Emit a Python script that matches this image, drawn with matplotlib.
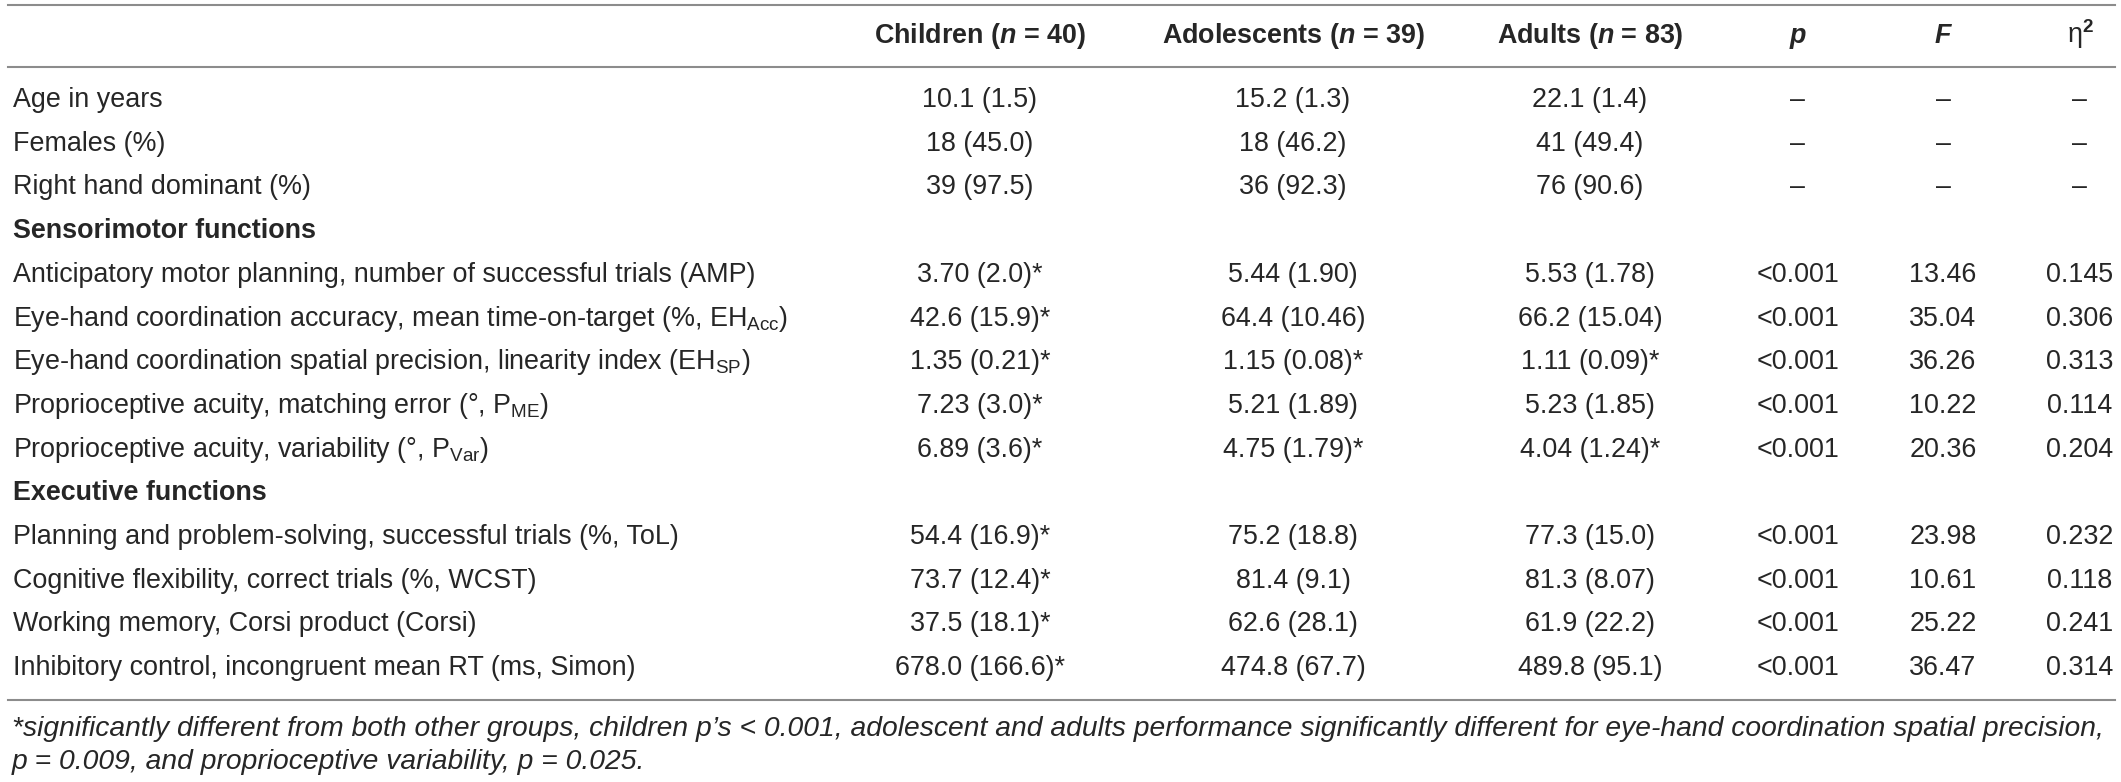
import matplotlib
matplotlib.use("Agg")
import matplotlib.pyplot as plt

FONT = "Liberation Sans"
plt.rcParams["font.family"] = [FONT, "DejaVu Sans"]
plt.rcParams["mathtext.fontset"] = "custom"
plt.rcParams["mathtext.rm"] = FONT
plt.rcParams["mathtext.it"] = FONT + ":italic:bold"
plt.rcParams["mathtext.bf"] = FONT + ":bold"

# table content
headers = ["Children ($n$ = 40)", "Adolescents ($n$ = 39)", "Adults ($n$ = 83)",
           "$p$", "$F$", "η$^{\\mathbf{2}}$"]

labels = [
    "Age in years",
    "Females (%)",
    "Right hand dominant (%)",
    "Sensorimotor functions",
    "Anticipatory motor planning, number of successful trials (AMP)",
    "Eye-hand coordination accuracy, mean time-on-target (%, EH$_{\\mathrm{Acc}}$)",
    "Eye-hand coordination spatial precision, linearity index (EH$_{\\mathrm{SP}}$)",
    "Proprioceptive acuity, matching error (°, P$_{\\mathrm{ME}}$)",
    "Proprioceptive acuity, variability (°, P$_{\\mathrm{Var}}$)",
    "Executive functions",
    "Planning and problem-solving, successful trials (%, ToL)",
    "Cognitive flexibility, correct trials (%, WCST)",
    "Working memory, Corsi product (Corsi)",
    "Inhibitory control, incongruent mean RT (ms, Simon)",
]
section_rows = [3, 9]

children = ["10.1 (1.5)", "18 (45.0)", "39 (97.5)", "",
            "3.70 (2.0)*", "42.6 (15.9)*", "1.35 (0.21)*", "7.23 (3.0)*", "6.89 (3.6)*", "",
            "54.4 (16.9)*", "73.7 (12.4)*", "37.5 (18.1)*", "678.0 (166.6)*"]
adolescents = ["15.2 (1.3)", "18 (46.2)", "36 (92.3)", "",
               "5.44 (1.90)", "64.4 (10.46)", "1.15 (0.08)*", "5.21 (1.89)", "4.75 (1.79)*", "",
               "75.2 (18.8)", "81.4 (9.1)", "62.6 (28.1)", "474.8 (67.7)"]
adults = ["22.1 (1.4)", "41 (49.4)", "76 (90.6)", "",
          "5.53 (1.78)", "66.2 (15.04)", "1.11 (0.09)*", "5.23 (1.85)", "4.04 (1.24)*", "",
          "77.3 (15.0)", "81.3 (8.07)", "61.9 (22.2)", "489.8 (95.1)"]
p_vals = ["–", "–", "–", "",
          "<0.001", "<0.001", "<0.001", "<0.001", "<0.001", "",
          "<0.001", "<0.001", "<0.001", "<0.001"]
f_vals = ["–", "–", "–", "",
          "13.46", "35.04", "36.26", "10.22", "20.36", "",
          "23.98", "10.61", "25.22", "36.47"]
eta_vals = ["–", "–", "–", "",
            "0.145", "0.306", "0.313", "0.114", "0.204", "",
            "0.232", "0.118", "0.241", "0.314"]

footnote = [
    "*significantly different from both other groups, children p’s < 0.001, adolescent and adults "
    "performance significantly different for eye-hand coordination spatial precision,",
    "p = 0.009, and proprioceptive variability, p = 0.025.",
]

W, H = 2121, 782
fig = plt.figure(figsize=(W / 100, H / 100), dpi=100)
ax = fig.add_axes([0, 0, 1, 1])
ax.set_xlim(0, W)
ax.set_ylim(H, 0)
ax.axis("off")

txt = "#262626"
fs = 19.4
col_x = [980, 1293, 1590, 1798, 1943, 2080]
columns = [children, adolescents, adults, p_vals, f_vals, eta_vals]

line_kw = dict(color="#8c8c8c", lw=1.5)
ax.plot([8, 2115], [5, 5], **line_kw)
ax.plot([8, 2115], [67, 67], **line_kw)
ax.plot([8, 2115], [700, 700], **line_kw)

for x, h in zip(col_x, headers):
    w = "normal" if h.startswith("η") else "bold"
    ax.text(x, 43, h, ha="center", va="baseline", fontsize=fs, fontweight=w, color=txt)

base0, step = 107, 43.7
for i, lab in enumerate(labels):
    y = base0 + i * step
    if i in section_rows:
        ax.text(13, y, lab, ha="left", va="baseline", fontsize=fs, fontweight="bold", color=txt)
        continue
    ax.text(13, y, lab, ha="left", va="baseline", fontsize=fs, color=txt)
    for x, col in zip(col_x, columns):
        ax.text(x, y, col[i], ha="center", va="baseline", fontsize=fs, color=txt)

for j, line in enumerate(footnote):
    ax.text(12, 736 + j * 33, line, ha="left", va="baseline", fontsize=20.3,
            style="italic", color=txt)

fig.savefig("out.png", dpi=100, facecolor="white")
